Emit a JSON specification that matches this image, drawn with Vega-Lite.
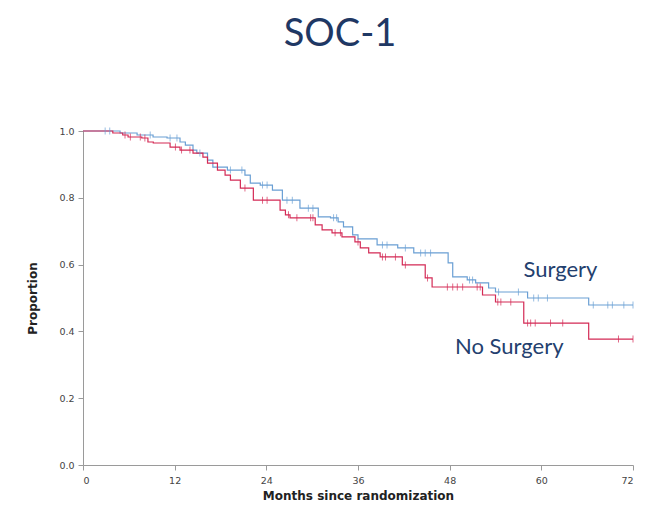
{
  "$schema": "https://vega.github.io/schema/vega-lite/v6.json",
  "width": 550,
  "height": 334,
  "autosize": {"type": "none"},
  "padding": {"left": 83, "top": 131, "right": 23, "bottom": 51},
  "background": "white",
  "title": {
    "text": "SOC-1",
    "orient": "top",
    "anchor": "middle",
    "frame": "group",
    "dx": -18,
    "offset": 42,
    "baseline": "alphabetic",
    "font": "Lato",
    "fontSize": 38,
    "fontWeight": "normal",
    "color": "#1f3864"
  },
  "config": {
    "view": {"stroke": null},
    "axis": {
      "grid": false,
      "domainColor": "#9a9a9a",
      "tickColor": "#9a9a9a",
      "tickSize": 5,
      "labelColor": "#444444",
      "labelFont": "DejaVu Sans",
      "labelFontSize": 9.5,
      "titleFont": "DejaVu Sans",
      "titleFontSize": 12,
      "titleFontWeight": "bold",
      "titleColor": "#222222"
    }
  },
  "datasets": {
    "curves": [
      {"group": "Surgery", "month": 0, "surv": 1.0},
      {"group": "Surgery", "month": 4.85, "surv": 0.994},
      {"group": "Surgery", "month": 7.08, "surv": 0.988},
      {"group": "Surgery", "month": 9.17, "surv": 0.982},
      {"group": "Surgery", "month": 11.0, "surv": 0.979},
      {"group": "Surgery", "month": 12.7, "surv": 0.967},
      {"group": "Surgery", "month": 13.4, "surv": 0.958},
      {"group": "Surgery", "month": 14.4, "surv": 0.943},
      {"group": "Surgery", "month": 14.9, "surv": 0.934},
      {"group": "Surgery", "month": 16.3, "surv": 0.913},
      {"group": "Surgery", "month": 17.0, "surv": 0.892},
      {"group": "Surgery", "month": 18.9, "surv": 0.883},
      {"group": "Surgery", "month": 21.2, "surv": 0.868},
      {"group": "Surgery", "month": 21.9, "surv": 0.844},
      {"group": "Surgery", "month": 23.2, "surv": 0.838},
      {"group": "Surgery", "month": 24.8, "surv": 0.823},
      {"group": "Surgery", "month": 26.1, "surv": 0.793},
      {"group": "Surgery", "month": 28.4, "surv": 0.769},
      {"group": "Surgery", "month": 30.8, "surv": 0.743},
      {"group": "Surgery", "month": 32.4, "surv": 0.740},
      {"group": "Surgery", "month": 33.4, "surv": 0.728},
      {"group": "Surgery", "month": 34.1, "surv": 0.713},
      {"group": "Surgery", "month": 35.3, "surv": 0.689},
      {"group": "Surgery", "month": 36.0, "surv": 0.677},
      {"group": "Surgery", "month": 38.5, "surv": 0.659},
      {"group": "Surgery", "month": 41.2, "surv": 0.650},
      {"group": "Surgery", "month": 43.3, "surv": 0.635},
      {"group": "Surgery", "month": 47.8, "surv": 0.605},
      {"group": "Surgery", "month": 48.4, "surv": 0.563},
      {"group": "Surgery", "month": 50.3, "surv": 0.554},
      {"group": "Surgery", "month": 51.4, "surv": 0.545},
      {"group": "Surgery", "month": 53.1, "surv": 0.530},
      {"group": "Surgery", "month": 54.0, "surv": 0.518},
      {"group": "Surgery", "month": 58.2, "surv": 0.500},
      {"group": "Surgery", "month": 66.2, "surv": 0.479},
      {"group": "Surgery", "month": 72.0, "surv": 0.479},
      {"group": "No Surgery", "month": 0, "surv": 1.0},
      {"group": "No Surgery", "month": 3.9, "surv": 0.994},
      {"group": "No Surgery", "month": 5.2, "surv": 0.988},
      {"group": "No Surgery", "month": 5.9, "surv": 0.982},
      {"group": "No Surgery", "month": 7.7, "surv": 0.979},
      {"group": "No Surgery", "month": 8.5, "surv": 0.967},
      {"group": "No Surgery", "month": 9.2, "surv": 0.964},
      {"group": "No Surgery", "month": 11.4, "surv": 0.952},
      {"group": "No Surgery", "month": 12.7, "surv": 0.943},
      {"group": "No Surgery", "month": 14.4, "surv": 0.934},
      {"group": "No Surgery", "month": 15.7, "surv": 0.922},
      {"group": "No Surgery", "month": 16.3, "surv": 0.904},
      {"group": "No Surgery", "month": 17.6, "surv": 0.883},
      {"group": "No Surgery", "month": 18.6, "surv": 0.868},
      {"group": "No Surgery", "month": 19.3, "surv": 0.853},
      {"group": "No Surgery", "month": 20.6, "surv": 0.829},
      {"group": "No Surgery", "month": 22.3, "surv": 0.793},
      {"group": "No Surgery", "month": 25.8, "surv": 0.763},
      {"group": "No Surgery", "month": 26.5, "surv": 0.749},
      {"group": "No Surgery", "month": 27.1, "surv": 0.740},
      {"group": "No Surgery", "month": 30.4, "surv": 0.719},
      {"group": "No Surgery", "month": 31.3, "surv": 0.704},
      {"group": "No Surgery", "month": 32.6, "surv": 0.695},
      {"group": "No Surgery", "month": 33.9, "surv": 0.683},
      {"group": "No Surgery", "month": 35.6, "surv": 0.668},
      {"group": "No Surgery", "month": 36.3, "surv": 0.650},
      {"group": "No Surgery", "month": 37.4, "surv": 0.635},
      {"group": "No Surgery", "month": 38.9, "surv": 0.623},
      {"group": "No Surgery", "month": 41.8, "surv": 0.599},
      {"group": "No Surgery", "month": 44.8, "surv": 0.560},
      {"group": "No Surgery", "month": 45.7, "surv": 0.533},
      {"group": "No Surgery", "month": 52.3, "surv": 0.509},
      {"group": "No Surgery", "month": 54.0, "surv": 0.488},
      {"group": "No Surgery", "month": 57.7, "surv": 0.425},
      {"group": "No Surgery", "month": 66.2, "surv": 0.377},
      {"group": "No Surgery", "month": 72.0, "surv": 0.377}
    ],
    "censored": [
      {"group": "Surgery", "month": 2.9, "surv": 1.0},
      {"group": "Surgery", "month": 3.5, "surv": 1.0},
      {"group": "Surgery", "month": 8.8, "surv": 0.988},
      {"group": "Surgery", "month": 11.4, "surv": 0.979},
      {"group": "Surgery", "month": 12.3, "surv": 0.979},
      {"group": "Surgery", "month": 15.3, "surv": 0.934},
      {"group": "Surgery", "month": 19.3, "surv": 0.883},
      {"group": "Surgery", "month": 20.8, "surv": 0.883},
      {"group": "Surgery", "month": 23.5, "surv": 0.838},
      {"group": "Surgery", "month": 24.1, "surv": 0.838},
      {"group": "Surgery", "month": 26.7, "surv": 0.793},
      {"group": "Surgery", "month": 27.4, "surv": 0.793},
      {"group": "Surgery", "month": 29.5, "surv": 0.769},
      {"group": "Surgery", "month": 30.1, "surv": 0.769},
      {"group": "Surgery", "month": 32.8, "surv": 0.740},
      {"group": "Surgery", "month": 33.2, "surv": 0.740},
      {"group": "Surgery", "month": 39.2, "surv": 0.659},
      {"group": "Surgery", "month": 39.8, "surv": 0.659},
      {"group": "Surgery", "month": 42.2, "surv": 0.650},
      {"group": "Surgery", "month": 44.2, "surv": 0.635},
      {"group": "Surgery", "month": 44.8, "surv": 0.635},
      {"group": "Surgery", "month": 45.5, "surv": 0.635},
      {"group": "Surgery", "month": 50.6, "surv": 0.554},
      {"group": "Surgery", "month": 51.0, "surv": 0.554},
      {"group": "Surgery", "month": 54.4, "surv": 0.518},
      {"group": "Surgery", "month": 57.0, "surv": 0.518},
      {"group": "Surgery", "month": 59.0, "surv": 0.500},
      {"group": "Surgery", "month": 59.6, "surv": 0.500},
      {"group": "Surgery", "month": 60.8, "surv": 0.500},
      {"group": "Surgery", "month": 66.8, "surv": 0.479},
      {"group": "Surgery", "month": 68.7, "surv": 0.479},
      {"group": "Surgery", "month": 69.3, "surv": 0.479},
      {"group": "Surgery", "month": 70.8, "surv": 0.479},
      {"group": "Surgery", "month": 72.0, "surv": 0.479},
      {"group": "No Surgery", "month": 5.5, "surv": 0.988},
      {"group": "No Surgery", "month": 6.2, "surv": 0.982},
      {"group": "No Surgery", "month": 7.5, "surv": 0.982},
      {"group": "No Surgery", "month": 8.1, "surv": 0.979},
      {"group": "No Surgery", "month": 12.1, "surv": 0.952},
      {"group": "No Surgery", "month": 12.9, "surv": 0.943},
      {"group": "No Surgery", "month": 14.0, "surv": 0.943},
      {"group": "No Surgery", "month": 21.2, "surv": 0.829},
      {"group": "No Surgery", "month": 23.5, "surv": 0.793},
      {"group": "No Surgery", "month": 24.1, "surv": 0.793},
      {"group": "No Surgery", "month": 26.9, "surv": 0.749},
      {"group": "No Surgery", "month": 28.0, "surv": 0.740},
      {"group": "No Surgery", "month": 29.8, "surv": 0.740},
      {"group": "No Surgery", "month": 30.1, "surv": 0.740},
      {"group": "No Surgery", "month": 33.0, "surv": 0.695},
      {"group": "No Surgery", "month": 33.7, "surv": 0.695},
      {"group": "No Surgery", "month": 36.0, "surv": 0.668},
      {"group": "No Surgery", "month": 39.2, "surv": 0.623},
      {"group": "No Surgery", "month": 39.6, "surv": 0.623},
      {"group": "No Surgery", "month": 40.9, "surv": 0.623},
      {"group": "No Surgery", "month": 42.2, "surv": 0.599},
      {"group": "No Surgery", "month": 45.1, "surv": 0.560},
      {"group": "No Surgery", "month": 47.7, "surv": 0.533},
      {"group": "No Surgery", "month": 48.4, "surv": 0.533},
      {"group": "No Surgery", "month": 49.0, "surv": 0.533},
      {"group": "No Surgery", "month": 49.7, "surv": 0.533},
      {"group": "No Surgery", "month": 51.6, "surv": 0.533},
      {"group": "No Surgery", "month": 52.0, "surv": 0.533},
      {"group": "No Surgery", "month": 54.3, "surv": 0.488},
      {"group": "No Surgery", "month": 54.7, "surv": 0.488},
      {"group": "No Surgery", "month": 56.0, "surv": 0.488},
      {"group": "No Surgery", "month": 58.2, "surv": 0.425},
      {"group": "No Surgery", "month": 58.6, "surv": 0.425},
      {"group": "No Surgery", "month": 59.2, "surv": 0.425},
      {"group": "No Surgery", "month": 61.2, "surv": 0.425},
      {"group": "No Surgery", "month": 62.8, "surv": 0.425},
      {"group": "No Surgery", "month": 70.1, "surv": 0.377},
      {"group": "No Surgery", "month": 72.0, "surv": 0.377}
    ],
    "labels": [
      {"group": "Surgery", "month": 62.5, "surv": 0.584},
      {"group": "No Surgery", "month": 55.8, "surv": 0.353}
    ]
  },
  "layer": [
    {
      "data": {"name": "curves"},
      "mark": {"type": "line", "interpolate": "step-after", "strokeWidth": 1.2},
      "encoding": {
        "x": {
          "field": "month",
          "type": "quantitative",
          "title": "Months since randomization",
          "scale": {"domain": [0, 72], "nice": false},
          "axis": {"values": [0, 12, 24, 36, 48, 60, 72], "labelPadding": 5, "titlePadding": 6}
        },
        "y": {
          "field": "surv",
          "type": "quantitative",
          "title": "Proportion",
          "scale": {"domain": [0, 1], "nice": false},
          "axis": {"values": [0, 0.2, 0.4, 0.6, 0.8, 1.0], "format": ".1f", "labelPadding": 4, "titlePadding": 19}
        },
        "color": {
          "field": "group",
          "type": "nominal",
          "scale": {"domain": ["Surgery", "No Surgery"], "range": ["#6a9fd4", "#d42a55"]},
          "legend": null
        }
      }
    },
    {
      "data": {"name": "censored"},
      "mark": {"type": "tick", "orient": "vertical", "size": 7, "thickness": 1},
      "encoding": {
        "x": {"field": "month", "type": "quantitative"},
        "y": {"field": "surv", "type": "quantitative"},
        "color": {"field": "group", "type": "nominal"}
      }
    },
    {
      "data": {"name": "labels"},
      "mark": {"type": "text", "font": "Lato", "fontSize": 22, "align": "center", "baseline": "middle", "color": "#23406e"},
      "encoding": {
        "x": {"field": "month", "type": "quantitative"},
        "y": {"field": "surv", "type": "quantitative"},
        "text": {"field": "group", "type": "nominal"}
      }
    }
  ]
}
